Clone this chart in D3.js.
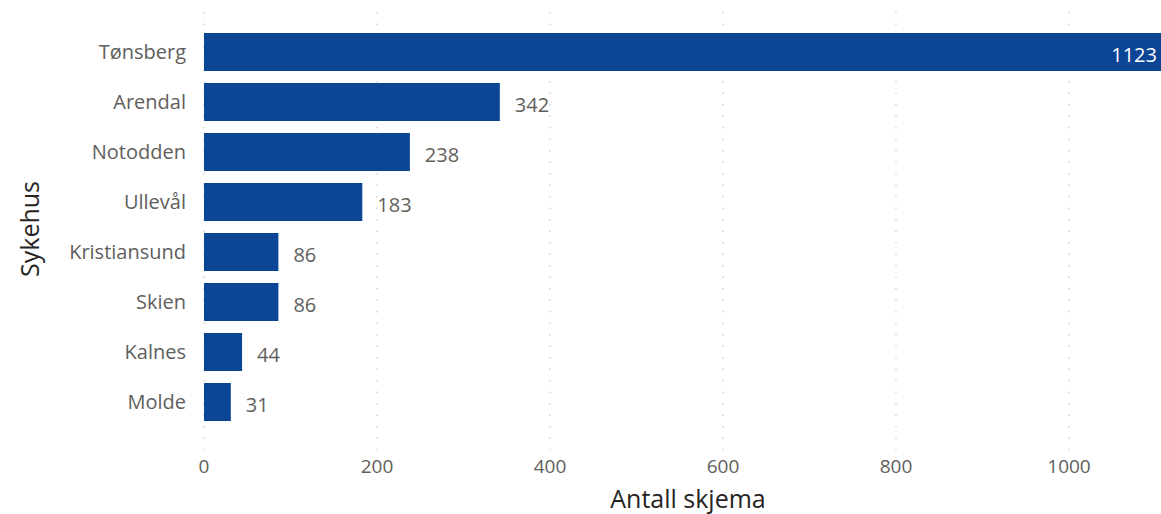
<!DOCTYPE html>
<html>
<head>
<meta charset="utf-8">
<script src="https://cdn.jsdelivr.net/npm/d3@7"></script>
<style>
  body { margin: 0; background: #fff; }
  text { font-family: "Open Sans", "Noto Sans", sans-serif; }
</style>
</head>
<body>
<div id="chart"></div>
<script>
// data
const hospitals = ["Tønsberg", "Arendal", "Notodden", "Ullevål", "Kristiansund", "Skien", "Kalnes", "Molde"];
const counts = [1123, 342, 238, 183, 86, 86, 44, 31];
const xTicks = [0, 200, 400, 600, 800, 1000];

const width = 1161;
const height = 514;
const left = 204;

const svg = d3.select("#chart")
    .append("svg")
    .attr("width", width)
    .attr("height", height);

// x scale: 0 at 204px, 1000 at 1069px; biggest bar runs past the edge
const x = d3.scaleLinear()
    .domain([0, 1000])
    .range([left, 1069]);

const y = d3.scaleBand()
    .domain(hospitals)
    .range([27, 427])
    .paddingInner(0.24)
    .paddingOuter(0.12);

// dotted gridlines
svg.append("g")
    .selectAll("line")
    .data(xTicks)
    .join("line")
    .attr("x1", d => x(d))
    .attr("x2", d => x(d))
    .attr("y1", 12)
    .attr("y2", 450)
    .attr("stroke", "#c8c6c4")
    .attr("stroke-width", 1.2)
    .attr("stroke-dasharray", "1.5,10");

// bars
svg.append("g")
    .selectAll("rect")
    .data(hospitals)
    .join("rect")
    .attr("x", x(0))
    .attr("y", d => y(d))
    .attr("width", (d, i) => Math.min(x(counts[i]), width) - x(0))
    .attr("height", y.bandwidth())
    .attr("fill", "#0b4595");

// data labels
svg.append("g")
    .selectAll("text")
    .data(hospitals)
    .join("text")
    .attr("y", d => y(d) + y.bandwidth() / 2 + 3)
    .attr("dy", "0.35em")
    .attr("font-size", "20px")
    .each(function (d, i) {
        const end = x(counts[i]);
        const t = d3.select(this).text(counts[i]);
        if (end > width - 40) {
            // doesn't fit outside, put it inside the bar
            t.attr("x", width - 4).attr("text-anchor", "end").attr("fill", "#ffffff");
        } else {
            t.attr("x", end + 15).attr("text-anchor", "start").attr("fill", "#605e5c");
        }
    });

// category labels
svg.append("g")
    .selectAll("text")
    .data(hospitals)
    .join("text")
    .attr("x", 186)
    .attr("y", d => y(d) + y.bandwidth() / 2)
    .attr("dy", "0.35em")
    .attr("text-anchor", "end")
    .attr("font-size", "20px")
    .attr("fill", "#605e5c")
    .text(d => d);

// x tick labels
svg.append("g")
    .selectAll("text")
    .data(xTicks)
    .join("text")
    .attr("x", d => x(d))
    .attr("y", 466)
    .attr("dy", "0.35em")
    .attr("text-anchor", "middle")
    .attr("font-size", "19px")
    .attr("fill", "#605e5c")
    .text(d => d);

// axis titles
svg.append("text")
    .attr("x", 688)
    .attr("y", 499)
    .attr("dy", "0.35em")
    .attr("text-anchor", "middle")
    .attr("font-size", "25px")
    .attr("fill", "#252423")
    .text("Antall skjema");

svg.append("text")
    .attr("transform", "translate(30,229) rotate(-90)")
    .attr("dy", "0.35em")
    .attr("text-anchor", "middle")
    .attr("font-size", "25px")
    .attr("fill", "#252423")
    .text("Sykehus");
</script>
</body>
</html>
